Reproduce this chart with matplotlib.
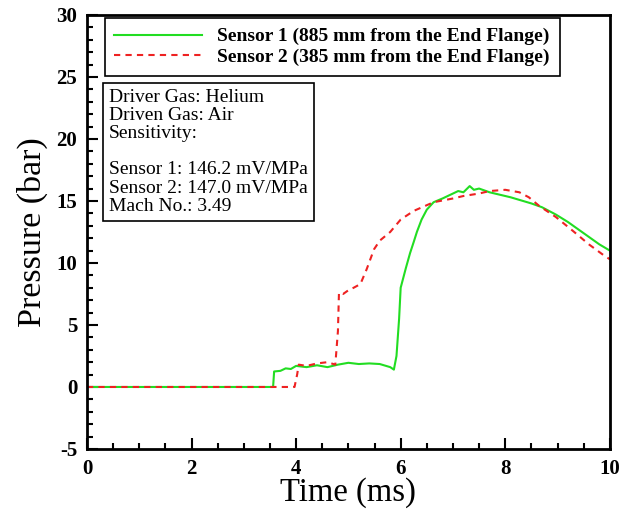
import numpy as np
import matplotlib
matplotlib.use('Agg')
import matplotlib.pyplot as plt
from matplotlib.ticker import MultipleLocator

plt.rcParams['font.family'] = ['Liberation Serif', 'DejaVu Serif']
plt.rcParams['axes.unicode_minus'] = False

# sensor 1 (green) - time in ms, pressure in bar
t1 = [0, 3.56, 3.58, 3.7, 3.8, 3.9, 4.0, 4.2, 4.4, 4.6, 4.8, 5.0, 5.2, 5.4, 5.6,
      5.8, 5.87, 5.92, 5.97, 6.0, 6.05, 6.1, 6.18, 6.25, 6.31, 6.4, 6.5, 6.63,
      6.8, 7.0, 7.1, 7.2, 7.32, 7.4, 7.5, 7.7, 7.9, 8.1, 8.34, 8.5, 8.7, 8.97,
      9.2, 9.4, 9.6, 9.8, 10.0]
p1 = [0, 0, 1.25, 1.3, 1.5, 1.45, 1.7, 1.6, 1.75, 1.6, 1.8, 1.95, 1.85, 1.9,
      1.85, 1.6, 1.4, 2.5, 5.5, 8.0, 8.8, 9.6, 10.8, 11.7, 12.5, 13.5, 14.3,
      14.9, 15.2, 15.6, 15.8, 15.7, 16.2, 15.9, 16.0, 15.7, 15.5, 15.3, 15.0,
      14.8, 14.5, 13.9, 13.3, 12.7, 12.1, 11.5, 11.0]

# sensor 2 (red, dashed)
t2 = [0, 3.97, 4.02, 4.05, 4.2, 4.4, 4.6, 4.75, 4.8, 4.82, 4.9, 5.0, 5.1, 5.23,
      5.35, 5.49, 5.6, 5.8, 6.0, 6.25, 6.63, 7.0, 7.2, 7.5, 7.7, 8.0, 8.27,
      8.45, 8.65, 8.97, 9.29, 9.6, 9.89, 10.0]
p2 = [0, 0, 1.0, 1.8, 1.7, 1.9, 2.0, 1.8, 4.5, 7.6, 7.5, 7.8, 8.0, 8.3, 9.5,
      11.1, 11.8, 12.5, 13.5, 14.2, 14.9, 15.2, 15.4, 15.6, 15.8, 15.9, 15.7,
      15.3, 14.6, 13.7, 12.6, 11.5, 10.6, 10.3]

info = ("Driver Gas: Helium\nDriven Gas: Air\nSensitivity:\n\n"
        "Sensor 1: 146.2 mV/MPa\nSensor 2: 147.0 mV/MPa\nMach No.: 3.49")

fig = plt.figure(figsize=(6.21, 5.14), dpi=100)
ax = fig.add_axes([0.140, 0.1265, 0.842, 0.8444])

ax.plot(t1, p1, color='#22dd22', lw=1.5,
        label='Sensor 1 (885 mm from the End Flange)')
ax.plot(t2, p2, color='#ee2222', lw=1.5, ls=(0, (3, 2.5)),
        label='Sensor 2 (385 mm from the End Flange)')

ax.set_xlim(0, 10)
ax.set_ylim(-5, 30)
ax.xaxis.set_major_locator(MultipleLocator(2))
ax.xaxis.set_minor_locator(MultipleLocator(0.5))
ax.yaxis.set_major_locator(MultipleLocator(5))
ax.yaxis.set_minor_locator(MultipleLocator(1))
ax.tick_params(which='both', direction='in', top=False, right=False, width=1.5)
ax.tick_params(which='major', length=8, labelsize=15, pad=7)
ax.tick_params(which='minor', length=4)
for lab in ax.get_xticklabels() + ax.get_yticklabels():
    lab.set_fontweight('bold')
for s in ax.spines.values():
    s.set_linewidth(2)

ax.set_xlabel('Time (ms)', fontsize=23.5, labelpad=-1)
ax.set_ylabel('Pressure (bar)', fontsize=24.5, labelpad=6)

leg = ax.legend(loc='upper left', bbox_to_anchor=(0.034, 0.993), fancybox=False,
                edgecolor='black', framealpha=1, borderpad=0.5,
                handlelength=4.5, borderaxespad=0,
                prop={'weight': 'bold', 'size': 14}, labelspacing=0.15)
leg.get_frame().set_linewidth(1.2)

ax.text(0.042, 0.830, info, transform=ax.transAxes, fontsize=14, va='top',
        linespacing=1.09,
        bbox=dict(boxstyle='square,pad=0.3', fc='white', ec='black', lw=1.2))

fig.savefig('out.png', dpi=100)
